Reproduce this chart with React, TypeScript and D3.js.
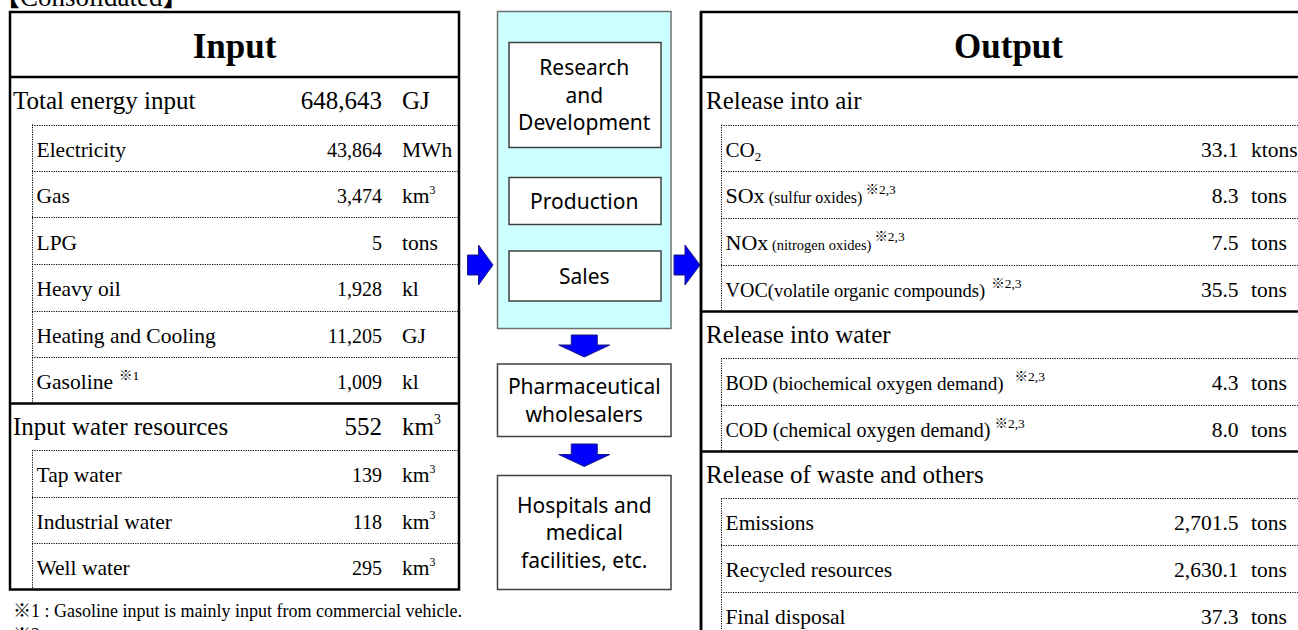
import React from "react";
import * as d3 from "d3";

// ---------------- DATA ----------------
const pageTitle = "【Consolidated】";

const inputGroups = ["Total energy input", "Input water resources"];
const inputGroupValues = [648643, 552];
const inputGroupUnits = ["GJ", "km3"];

const energyItems = ["Electricity", "Gas", "LPG", "Heavy oil", "Heating and Cooling", "Gasoline"];
const energyValues = [43864, 3474, 5, 1928, 11205, 1009];
const energyUnits = ["MWh", "km3", "tons", "kl", "GJ", "kl"];
const energyNotes = ["", "", "", "", "", "※1"];

const waterItems = ["Tap water", "Industrial water", "Well water"];
const waterValues = [139, 118, 295];
const waterUnits = ["km3", "km3", "km3"];

const outputGroups = ["Release into air", "Release into water", "Release of waste and others"];

const airItems = ["CO2", "SOx", "NOx", "VOC"];
const airDescs = ["", " (sulfur oxides)", " (nitrogen oxides)", "(volatile organic compounds)"];
const airNotes = ["", "※2,3", "※2,3", "※2,3"];
const airValues = [33.1, 8.3, 7.5, 35.5];
const airUnits = ["ktons", "tons", "tons", "tons"];

const waterOutItems = ["BOD", "COD"];
const waterOutDescs = [" (biochemical oxygen demand)", " (chemical oxygen demand)"];
const waterOutNotes = ["※2,3", "※2,3"];
const waterOutValues = [4.3, 8.0];
const waterOutUnits = ["tons", "tons"];

const wasteItems = ["Emissions", "Recycled resources", "Final disposal"];
const wasteValues = [2701.5, 2630.1, 37.3];
const wasteUnits = ["tons", "tons", "tons"];

const stageLines = [["Research", "and", "Development"], ["Production"], ["Sales"]];
const channelLines = [["Pharmaceutical", "wholesalers"], ["Hospitals and", "medical", "facilities, etc."]];

const footnotes = ["※1 : Gasoline input is mainly input from commercial vehicle.", "※2"];

// ---------------- STYLE / LAYOUT ----------------
const W = 1298;
const H = 630;
const SERIF = "'Liberation Serif', 'Times New Roman', 'Noto Sans CJK JP', serif";
const SANS = "'Noto Sans', 'Open Sans', sans-serif";
const fmtInt = d3.format(",");
const fmtDec = d3.format(",.1f");

const THICK = 2.5;
const DOT = "1.2 1.2";

// per-row style for output acronyms/descriptions/notes
const airAcrSize = [21, 22, 22, 20];
const airDescSize = [16, 16, 14.5, 18.5];
const airNoteDx = [0, 3, 3, 6];
const waterOutAcrSize = [20, 20];
const waterOutDescSize = [19, 20];
const waterOutNoteDx = [11, 4];

type Row = {
  main: boolean;
  label: string;
  desc?: string;
  note?: string;
  noteDx?: number;
  value: string;
  unit: string;
  acr?: number;
  descSize?: number;
};

function UnitText({ x, y, unit, size }: { x: number; y: number; unit: string; size: number }) {
  if (unit === "km3") {
    return (
      <text x={x} y={y} fontSize={size} fontFamily={SERIF}>
        km
        <tspan fontSize={size * 0.55} dy={-size * 0.42}>3</tspan>
      </text>
    );
  }
  return (
    <text x={x} y={y} fontSize={size} fontFamily={SERIF}>
      {unit}
    </text>
  );
}

function Label({ x, y, row, size }: { x: number; y: number; row: Row; size: number }) {
  const acrSize = row.acr ?? size;
  const m = row.label.match(/^([A-Z]+)(\d)$/);
  return (
    <text x={x} y={y} fontFamily={SERIF} fontSize={acrSize}>
      {m ? (
        <>
          {m[1]}
          <tspan fontSize={acrSize * 0.62} dy={acrSize * 0.2}>{m[2]}</tspan>
          <tspan dy={-acrSize * 0.2}> </tspan>
        </>
      ) : (
        row.label
      )}
      {row.desc ? <tspan fontSize={row.descSize}>{row.desc}</tspan> : null}
      {row.note ? (
        <tspan fontSize={13.5} dx={row.noteDx ?? 6} dy={-9}>
          {row.note}
        </tspan>
      ) : null}
    </text>
  );
}

function Table({
  rows,
  x0,
  x1,
  title,
  step,
  mainX,
  subX,
  valueX,
  unitX,
  mainSize,
  subSize,
  subValueSize,
}: {
  rows: Row[];
  x0: number;
  x1: number;
  title: string;
  step: number;
  mainX: number;
  subX: number;
  valueX: number;
  unitX: number;
  mainSize: number;
  subSize: number;
  subValueSize: number;
}) {
  const top = 12;
  const headBottom = 78;
  const y = d3.scaleLinear().domain([0, rows.length]).range([headBottom, headBottom + rows.length * step]);
  const snap = (v: number) => Math.round(v) + 0.5;
  const groups: { start: number; end: number }[] = [];
  rows.forEach((r, i) => {
    if (r.main) groups.push({ start: i + 1, end: i + 1 });
    else groups[groups.length - 1].end = i + 1;
  });
  const dotX = subX - 4.5;
  return (
    <g>
      <rect x={x0} y={top} width={x1 - x0} height={y(rows.length) - top} fill="#fff" stroke="#000" strokeWidth={THICK} />
      <line x1={x0} x2={x1} y1={headBottom - 1} y2={headBottom - 1} stroke="#000" strokeWidth={THICK} />
      <text x={(x0 + x1) / 2} y={58} textAnchor="middle" fontFamily={SERIF} fontWeight="bold" fontSize={35}>
        {title}
      </text>
      {rows.map((r, i) =>
        r.main && i > 0 ? (
          <line key={"t" + i} x1={x0} x2={x1} y1={y(i)} y2={y(i)} stroke="#000" strokeWidth={THICK} />
        ) : null
      )}
      {rows.map((r, i) =>
        !r.main ? (
          <line key={"d" + i} x1={dotX} x2={x1} y1={snap(y(i))} y2={snap(y(i))} stroke="#000" strokeWidth={1} strokeDasharray={DOT} />
        ) : null
      )}
      {groups.map((g, k) => (
        <line key={"v" + k} x1={snap(dotX)} x2={snap(dotX)} y1={y(g.start)} y2={y(g.end)} stroke="#000" strokeWidth={1} strokeDasharray={DOT} />
      ))}
      {rows.map((r, i) => {
        const by = y(i) + (r.main ? 31 : 32);
        const lsize = r.main ? mainSize : subSize;
        const vsize = r.main ? mainSize : subValueSize;
        return (
          <g key={"r" + i}>
            <Label x={r.main ? mainX : subX} y={by} row={r} size={lsize} />
            <text x={valueX} y={by} textAnchor="end" fontFamily={SERIF} fontSize={vsize}>
              {r.value}
            </text>
            <UnitText x={unitX} y={by} unit={r.unit} size={r.main ? mainSize : subSize} />
          </g>
        );
      })}
    </g>
  );
}

function rightArrowPath(x0: number, x1: number, yc: number, bodyH: number, headH: number, headLen: number) {
  const p = d3.path();
  const hx = x1 - headLen;
  p.moveTo(x0, yc - bodyH / 2);
  p.lineTo(hx, yc - bodyH / 2);
  p.lineTo(hx, yc - headH / 2);
  p.lineTo(x1, yc);
  p.lineTo(hx, yc + headH / 2);
  p.lineTo(hx, yc + bodyH / 2);
  p.lineTo(x0, yc + bodyH / 2);
  p.closePath();
  return p.toString();
}

function downArrowPath(xc: number, y0: number, y1: number, bodyW: number, headW: number, headLen: number) {
  const p = d3.path();
  const hy = y1 - headLen;
  p.moveTo(xc - bodyW / 2, y0);
  p.lineTo(xc + bodyW / 2, y0);
  p.lineTo(xc + bodyW / 2, hy);
  p.lineTo(xc + headW / 2, hy);
  p.lineTo(xc, y1);
  p.lineTo(xc - headW / 2, hy);
  p.lineTo(xc - bodyW / 2, hy);
  p.closePath();
  return p.toString();
}

function MultiLine({ lines, cx, cy, size, lh }: { lines: string[]; cx: number; cy: number; size: number; lh: number }) {
  const first = cy - ((lines.length - 1) * lh) / 2 + size * 0.36;
  return (
    <text textAnchor="middle" fontFamily={SANS} fontSize={size} fill="#000">
      {lines.map((l, i) => (
        <tspan key={i} x={cx} y={first + i * lh}>
          {l}
        </tspan>
      ))}
    </text>
  );
}

export default function App() {
  const inRows: Row[] = [
    { main: true, label: inputGroups[0], value: fmtInt(inputGroupValues[0]), unit: inputGroupUnits[0] },
    ...energyItems.map((l, i) => ({
      main: false,
      label: l,
      note: energyNotes[i] || undefined,
      noteDx: 6,
      value: fmtInt(energyValues[i]),
      unit: energyUnits[i],
    })),
    { main: true, label: inputGroups[1], value: fmtInt(inputGroupValues[1]), unit: inputGroupUnits[1] },
    ...waterItems.map((l, i) => ({ main: false, label: l, value: fmtInt(waterValues[i]), unit: waterUnits[i] })),
  ];

  const outRows: Row[] = [
    { main: true, label: outputGroups[0], value: "", unit: "" },
    ...airItems.map((l, i) => ({
      main: false,
      label: l,
      desc: airDescs[i] || undefined,
      note: airNotes[i] || undefined,
      noteDx: airNoteDx[i],
      value: fmtDec(airValues[i]),
      unit: airUnits[i],
      acr: airAcrSize[i],
      descSize: airDescSize[i],
    })),
    { main: true, label: outputGroups[1], value: "", unit: "" },
    ...waterOutItems.map((l, i) => ({
      main: false,
      label: l,
      desc: waterOutDescs[i],
      note: waterOutNotes[i],
      noteDx: waterOutNoteDx[i],
      value: fmtDec(waterOutValues[i]),
      unit: waterOutUnits[i],
      acr: waterOutAcrSize[i],
      descSize: waterOutDescSize[i],
    })),
    { main: true, label: outputGroups[2], value: "", unit: "" },
    ...wasteItems.map((l, i) => ({ main: false, label: l, value: fmtDec(wasteValues[i]), unit: wasteUnits[i] })),
  ];

  // middle flow layout
  const midL = 497.5;
  const midR = 671;
  const midCx = (midL + midR) / 2;
  const stageBoxes = [
    { y0: 42.5, y1: 147.5 },
    { y0: 177.5, y1: 224.5 },
    { y0: 251, y1: 301 },
  ];
  const channelBoxes = [
    { y0: 364, y1: 436.5 },
    { y0: 475.5, y1: 589.5 },
  ];
  const downArrows = [
    { y0: 335, y1: 357 },
    { y0: 444, y1: 466.5 },
  ];
  const arrowFill = "#0000ff";
  const arrowStroke = "#1a1a80";

  return (
    <svg
      width={W}
      height={H}
      viewBox={`0 0 ${W} ${H}`}
      style={{ position: "absolute", left: 0, top: 0, display: "block", background: "#fff" }}
    >
      <rect x={0} y={0} width={W} height={H} fill="#fff" />
      <text x={-7} y={6} fontFamily={SERIF} fontSize={27}>
        {pageTitle}
      </text>

      <Table
        rows={inRows}
        x0={10}
        x1={459}
        title="Input"
        step={46.5}
        mainX={13}
        subX={36.5}
        valueX={382}
        unitX={402}
        mainSize={25}
        subSize={21.5}
        subValueSize={20}
      />

      <Table
        rows={outRows}
        x0={701}
        x1={1316}
        title="Output"
        step={46.7}
        mainX={706}
        subX={725.5}
        valueX={1238.5}
        unitX={1251}
        mainSize={25}
        subSize={21.5}
        subValueSize={21.5}
      />

      {/* middle flow */}
      <rect x={midL} y={11.5} width={midR - midL} height={317} fill="#ccffff" stroke="#707070" strokeWidth={1.5} />
      {stageBoxes.map((b, i) => (
        <g key={"s" + i}>
          <rect x={509} y={b.y0} width={152} height={b.y1 - b.y0} fill="#fff" stroke="#404040" strokeWidth={1.5} />
          <MultiLine lines={stageLines[i]} cx={midCx} cy={(b.y0 + b.y1) / 2} size={21} lh={27.5} />
        </g>
      ))}
      {channelBoxes.map((b, i) => (
        <g key={"c" + i}>
          <rect x={midL} y={b.y0} width={midR - midL} height={b.y1 - b.y0} fill="#fff" stroke="#404040" strokeWidth={1.5} />
          <MultiLine lines={channelLines[i]} cx={midCx} cy={(b.y0 + b.y1) / 2} size={21} lh={27.5} />
        </g>
      ))}
      {downArrows.map((a, i) => (
        <path key={"da" + i} d={downArrowPath(midCx, a.y0, a.y1, 26, 51, 12)} fill={arrowFill} stroke={arrowStroke} strokeWidth={1} />
      ))}
      <path d={rightArrowPath(467.5, 493, 265, 20, 40, 14.5)} fill={arrowFill} stroke={arrowStroke} strokeWidth={1} />
      <path d={rightArrowPath(674, 700, 265, 20, 40, 15)} fill={arrowFill} stroke={arrowStroke} strokeWidth={1} />
      <line x1={701} x2={701} y1={12} y2={H} stroke="#000" strokeWidth={THICK} />

      {footnotes.map((f, i) => (
        <text key={"f" + i} x={13} y={617 + i * 24} fontFamily={SERIF} fontSize={18}>
          {f}
        </text>
      ))}
    </svg>
  );
}
